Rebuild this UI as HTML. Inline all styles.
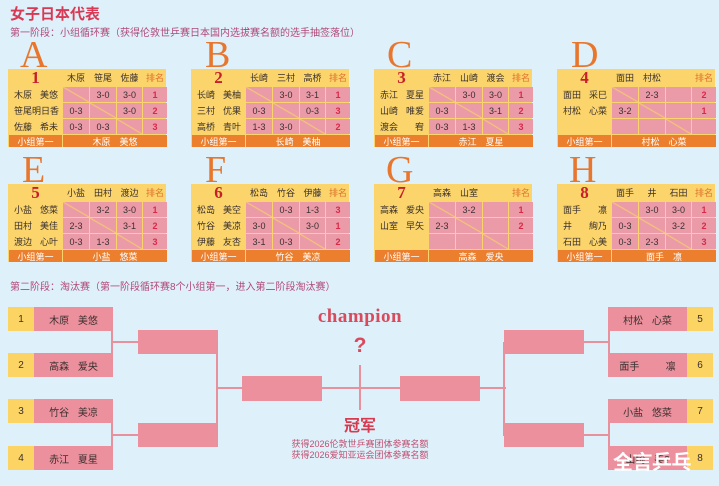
<!DOCTYPE html>
<html><head><meta charset="utf-8"><style>
*{margin:0;padding:0;box-sizing:border-box}
body{width:719px;height:486px;background:#def0fa;position:relative;overflow:hidden;font-family:"Liberation Sans","Noto Sans CJK SC",sans-serif;color:#3a3030}
.a{position:absolute}
.title{left:10px;top:3px;font-size:15px;font-weight:bold;color:#d83a55}
.sub{font-size:10px;color:#b04a7a;left:10px}
.g{position:absolute;width:158px;height:78px;background:#fbd56b;display:grid;grid-template-columns:53px 26px 26px 25px 24px;grid-template-rows:17px 15px 15px 15px 12px;gap:1px;padding-left:1px;font-size:9px}
.g div{display:flex;align-items:center;justify-content:center;white-space:nowrap}
.g .p{background:#eb9aa8}
.g .d{background:linear-gradient(to top right,#eb9aa8 46%,#f2c27a 49%,#f2c27a 51%,#eb9aa8 54%)}
.g .n{justify-content:space-between;padding:0 4px 0 5px}
.g .r{color:#d82a48;font-weight:bold}
.g .h{color:#e07030}
.g .num{font-family:"Liberation Serif",serif;font-weight:bold;font-size:17px;color:#c8202a}
.g .f{background:#eb7f2e;color:#fff}
.g .fw{grid-column:2 / span 4}
.L{position:absolute;font-family:"Liberation Serif",serif;font-size:38px;line-height:38px;color:#e8772d}
.bx{position:absolute;background:#eb909c}
.ln{position:absolute;background:#e8909c}
.nb{position:absolute;height:24px;width:105px;background:#eb909c;font-size:10px;display:flex;align-items:center}
.nb .y{width:26px;height:100%;background:#fcd463;display:flex;align-items:center;justify-content:center;font-size:10px}
.nb .t{flex:1;text-align:center;word-spacing:6px}
</style></head><body>
<div class="a title">女子日本代表</div>
<div class="a sub" style="top:24px">第一阶段：小组循环赛（获得伦敦世乒赛日本国内选拔赛名额的选手抽签落位）</div>

<div class="L" style="left:20px;top:36px">A</div>
<div class="g" style="left:8px;top:69px">
<div class="num">1</div><div>木原</div><div>笹尾</div><div>佐藤</div><div class="h">排名</div>
<div class="n"><span>木原</span><span>美悠</span></div><div class="d"></div><div class="p">3-0</div><div class="p">3-0</div><div class="p r">1</div>
<div class="n"><span>笹尾明日香</span></div><div class="p">0-3</div><div class="d"></div><div class="p">3-0</div><div class="p r">2</div>
<div class="n"><span>佐藤</span><span>希未</span></div><div class="p">0-3</div><div class="p">0-3</div><div class="d"></div><div class="p r">3</div>
<div class="f">小组第一</div><div class="f fw">木原　美悠</div></div>

<div class="L" style="left:205px;top:36px">B</div>
<div class="g" style="left:191px;top:69px">
<div class="num">2</div><div>长崎</div><div>三村</div><div>高桥</div><div class="h">排名</div>
<div class="n"><span>长崎</span><span>美柚</span></div><div class="d"></div><div class="p">3-0</div><div class="p">3-1</div><div class="p r">1</div>
<div class="n"><span>三村</span><span>优果</span></div><div class="p">0-3</div><div class="d"></div><div class="p">0-3</div><div class="p r">3</div>
<div class="n"><span>高桥</span><span>青叶</span></div><div class="p">1-3</div><div class="p">3-0</div><div class="d"></div><div class="p r">2</div>
<div class="f">小组第一</div><div class="f fw">长崎　美柚</div></div>

<div class="L" style="left:387px;top:36px">C</div>
<div class="g" style="left:374px;top:69px">
<div class="num">3</div><div>赤江</div><div>山崎</div><div>渡会</div><div class="h">排名</div>
<div class="n"><span>赤江</span><span>夏星</span></div><div class="d"></div><div class="p">3-0</div><div class="p">3-0</div><div class="p r">1</div>
<div class="n"><span>山崎</span><span>唯爱</span></div><div class="p">0-3</div><div class="d"></div><div class="p">3-1</div><div class="p r">2</div>
<div class="n"><span>渡会</span><span>宥</span></div><div class="p">0-3</div><div class="p">1-3</div><div class="d"></div><div class="p r">3</div>
<div class="f">小组第一</div><div class="f fw">赤江　夏星</div></div>

<div class="L" style="left:571px;top:36px">D</div>
<div class="g" style="left:557px;top:69px">
<div class="num">4</div><div>面田</div><div>村松</div><div></div><div class="h">排名</div>
<div class="n"><span>面田</span><span>采巳</span></div><div class="d"></div><div class="p">2-3</div><div class="p"></div><div class="p r">2</div>
<div class="n"><span>村松</span><span>心菜</span></div><div class="p">3-2</div><div class="d"></div><div class="p"></div><div class="p r">1</div>
<div></div><div class="p"></div><div class="p"></div><div class="d"></div><div class="p"></div>
<div class="f">小组第一</div><div class="f fw">村松　心菜</div></div>

<div class="L" style="left:22px;top:151px">E</div>
<div class="g" style="left:8px;top:184px">
<div class="num">5</div><div>小盐</div><div>田村</div><div>渡边</div><div class="h">排名</div>
<div class="n"><span>小盐</span><span>悠菜</span></div><div class="d"></div><div class="p">3-2</div><div class="p">3-0</div><div class="p r">1</div>
<div class="n"><span>田村</span><span>美佳</span></div><div class="p">2-3</div><div class="d"></div><div class="p">3-1</div><div class="p r">2</div>
<div class="n"><span>渡边</span><span>心叶</span></div><div class="p">0-3</div><div class="p">1-3</div><div class="d"></div><div class="p r">3</div>
<div class="f">小组第一</div><div class="f fw">小盐　悠菜</div></div>

<div class="L" style="left:205px;top:151px">F</div>
<div class="g" style="left:191px;top:184px">
<div class="num">6</div><div>松岛</div><div>竹谷</div><div>伊藤</div><div class="h">排名</div>
<div class="n"><span>松岛</span><span>美空</span></div><div class="d"></div><div class="p">0-3</div><div class="p">1-3</div><div class="p r">3</div>
<div class="n"><span>竹谷</span><span>美凉</span></div><div class="p">3-0</div><div class="d"></div><div class="p">3-0</div><div class="p r">1</div>
<div class="n"><span>伊藤</span><span>友杏</span></div><div class="p">3-1</div><div class="p">0-3</div><div class="d"></div><div class="p r">2</div>
<div class="f">小组第一</div><div class="f fw">竹谷　美凉</div></div>

<div class="L" style="left:386px;top:151px">G</div>
<div class="g" style="left:374px;top:184px">
<div class="num">7</div><div>高森</div><div>山室</div><div></div><div class="h">排名</div>
<div class="n"><span>高森</span><span>爱央</span></div><div class="d"></div><div class="p">3-2</div><div class="p"></div><div class="p r">1</div>
<div class="n"><span>山室</span><span>早矢</span></div><div class="p">2-3</div><div class="d"></div><div class="p"></div><div class="p r">2</div>
<div></div><div class="p"></div><div class="p"></div><div class="d"></div><div class="p"></div>
<div class="f">小组第一</div><div class="f fw">高森　爱央</div></div>

<div class="L" style="left:569px;top:151px">H</div>
<div class="g" style="left:557px;top:184px">
<div class="num">8</div><div>面手</div><div>井</div><div>石田</div><div class="h">排名</div>
<div class="n"><span>面手</span><span>凛</span></div><div class="d"></div><div class="p">3-0</div><div class="p">3-0</div><div class="p r">1</div>
<div class="n"><span>井</span><span>絢乃</span></div><div class="p">0-3</div><div class="d"></div><div class="p">3-2</div><div class="p r">2</div>
<div class="n"><span>石田</span><span>心美</span></div><div class="p">0-3</div><div class="p">2-3</div><div class="d"></div><div class="p r">3</div>
<div class="f">小组第一</div><div class="f fw">面手　凛</div></div>

<div class="a sub" style="top:278px">第二阶段：淘汰赛（第一阶段循环赛8个小组第一，进入第二阶段淘汰赛）</div>

<div class="nb" style="left:8px;top:307px"><div class="y">1</div><div class="t">木原 美悠</div></div>
<div class="nb" style="left:8px;top:353px"><div class="y">2</div><div class="t">高森 爱央</div></div>
<div class="nb" style="left:8px;top:399px"><div class="y">3</div><div class="t">竹谷 美凉</div></div>
<div class="nb" style="left:8px;top:446px"><div class="y">4</div><div class="t">赤江 夏星</div></div>
<div class="ln" style="left:111px;top:319px;width:2px;height:47px"></div>
<div class="ln" style="left:111px;top:341px;width:28px;height:2px"></div>
<div class="ln" style="left:111px;top:411px;width:2px;height:47px"></div>
<div class="ln" style="left:111px;top:434px;width:28px;height:2px"></div>
<div class="bx" style="left:138px;top:330px;width:80px;height:24px"></div>
<div class="bx" style="left:138px;top:423px;width:80px;height:24px"></div>
<div class="ln" style="left:216px;top:342px;width:2px;height:94px"></div>
<div class="ln" style="left:216px;top:387px;width:27px;height:2px"></div>
<div class="bx" style="left:242px;top:376px;width:80px;height:25px"></div>
<div class="ln" style="left:322px;top:387px;width:78px;height:2px"></div>
<div class="ln" style="left:359px;top:365px;width:2px;height:45px"></div>
<div class="bx" style="left:400px;top:376px;width:80px;height:25px"></div>
<div class="ln" style="left:479px;top:387px;width:27px;height:2px"></div>
<div class="ln" style="left:503px;top:342px;width:2px;height:94px"></div>
<div class="bx" style="left:504px;top:330px;width:80px;height:24px"></div>
<div class="bx" style="left:504px;top:423px;width:80px;height:24px"></div>
<div class="ln" style="left:584px;top:341px;width:26px;height:2px"></div>
<div class="ln" style="left:584px;top:434px;width:26px;height:2px"></div>
<div class="ln" style="left:608px;top:319px;width:2px;height:47px"></div>
<div class="ln" style="left:608px;top:411px;width:2px;height:47px"></div>
<div class="nb" style="left:608px;top:307px"><div class="t">村松 心菜</div><div class="y">5</div></div>
<div class="nb" style="left:608px;top:353px"><div class="t">面手 &nbsp; 凛</div><div class="y">6</div></div>
<div class="nb" style="left:608px;top:399px"><div class="t">小盐 悠菜</div><div class="y">7</div></div>
<div class="nb" style="left:608px;top:446px"><div class="t">山崎 美?</div><div class="y">8</div></div>

<div class="a" style="left:300px;top:306px;width:120px;text-align:center;font-family:'Liberation Serif',serif;font-weight:bold;font-size:19px;color:#d84a5c;letter-spacing:0.5px">champion</div>
<div class="a" style="left:340px;top:334px;width:40px;text-align:center;font-weight:bold;font-size:21px;color:#d84a5c">?</div>
<div class="a" style="left:320px;top:412px;width:80px;text-align:center;font-weight:bold;font-size:16px;color:#d83a50">冠军</div>
<div class="a" style="left:280px;top:439px;width:160px;text-align:center;font-size:9px;line-height:11px;color:#c05070">获得2026伦敦世乒赛团体参赛名额<br>获得2026爱知亚运会团体参赛名额</div>
<div class="a" style="left:613px;top:446px;font-size:20px;font-weight:bold;color:#fff;letter-spacing:-0.5px">全言乒乓</div>
</body></html>
